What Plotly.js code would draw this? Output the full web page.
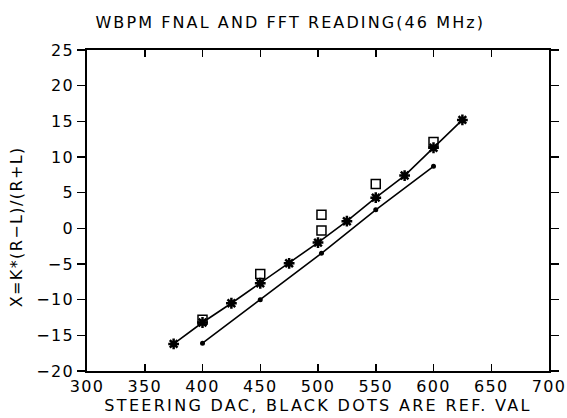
<!DOCTYPE html>
<html>
<head>
<meta charset="utf-8">
<script src="https://cdn.plot.ly/plotly-3.0.1.min.js"></script>
<style>
html,body{margin:0;padding:0;background:#fff;}
#chart .gtitle{letter-spacing:2.1px;}
#chart .xtitle{letter-spacing:2.3px;}
#chart .annotation-text{letter-spacing:1.4px;}
#chart .xtick text,#chart .ytick text{letter-spacing:1.3px;}
</style>
</head>
<body>
<div id="chart" style="width:567px;height:418px;"></div>
<script>
// FFT reading (asterisks, joined by a line)
const fftX = [375, 400, 425, 450, 475, 500, 525, 550, 575, 600, 625];
const fftY = [-16.2, -13.2, -10.5, -7.7, -4.9, -2.0, 1.0, 4.3, 7.4, 11.3, 15.2];
// Reference values (black dots, joined by a line)
const refX = [400, 450, 503, 550, 600];
const refY = [-16.1, -10.0, -3.5, 2.6, 8.7];
// WBPM FNAL reading (open squares)
const fnalX = [400, 450, 503, 503, 550, 600];
const fnalY = [-12.8, -6.4, 1.9, -0.3, 6.2, 12.1];

const xTicks = [300, 350, 400, 450, 500, 550, 600, 650, 700];
const yTicks = [-20, -15, -10, -5, 0, 5, 10, 15, 20, 25];

const font = "DejaVu Sans, sans-serif";

const traces = [
  {x: refX, y: refY, mode: 'lines+markers', type: 'scatter', name: 'REF',
   line: {color: '#000', width: 1.6},
   marker: {symbol: 'circle', size: 5, color: '#000'}},
  {x: fftX, y: fftY, mode: 'lines+markers', type: 'scatter', name: 'FFT',
   line: {color: '#000', width: 1.6},
   marker: {symbol: 'asterisk', size: 9, color: '#000', line: {color: '#000', width: 2.5}}},
  {x: fnalX, y: fnalY, mode: 'markers', type: 'scatter', name: 'FNAL',
   marker: {symbol: 'square-open', size: 9, color: '#000', line: {color: '#000', width: 1.5}}}
];

const layout = {
  width: 567, height: 418,
  margin: {l: 87, r: 18, t: 50, b: 47},
  paper_bgcolor: '#fff', plot_bgcolor: '#fff',
  showlegend: false,
  font: {family: font, color: '#000', size: 16},
  title: {text: 'WBPM FNAL AND FFT READING(46 MHz)', font: {family: font, size: 16, color: '#000'},
          x: 0.512, xanchor: 'center', y: 0.947, yanchor: 'middle'},
  xaxis: {
    range: [300, 700], tickvals: xTicks, ticktext: xTicks.map(String),
    ticks: 'inside', ticklen: 7, tickwidth: 1.5, tickcolor: '#000',
    showline: true, linecolor: '#000', linewidth: 1.8, mirror: 'ticks',
    showgrid: false, zeroline: false,
    tickfont: {family: font, size: 16, color: '#000'},
    title: {text: 'STEERING DAC, BLACK DOTS ARE REF. VAL', font: {family: font, size: 16, color: '#000'}, standoff: 3}
  },
  yaxis: {
    range: [-20, 25], tickvals: yTicks, ticktext: yTicks.map(v => v < 0 ? '\u2212' + Math.abs(v) : String(v)),
    ticks: 'outside', ticklen: 8, tickwidth: 1.5, tickcolor: '#000',
    showline: true, linecolor: '#000', linewidth: 1.8, mirror: 'ticks',
    showgrid: false, zeroline: false,
    tickfont: {family: font, size: 16, color: '#000'}
  },
  annotations: [{
    text: 'X=K*(R\u2212L)/(R+L)', textangle: -90, showarrow: false,
    xref: 'paper', yref: 'paper', x: -0.153, y: 0.45, xanchor: 'center', yanchor: 'middle',
    font: {family: font, size: 16, color: '#000'}
  }]
};

Plotly.newPlot('chart', traces, layout, {displayModeBar: false, staticPlot: true});
</script>
</body>
</html>
